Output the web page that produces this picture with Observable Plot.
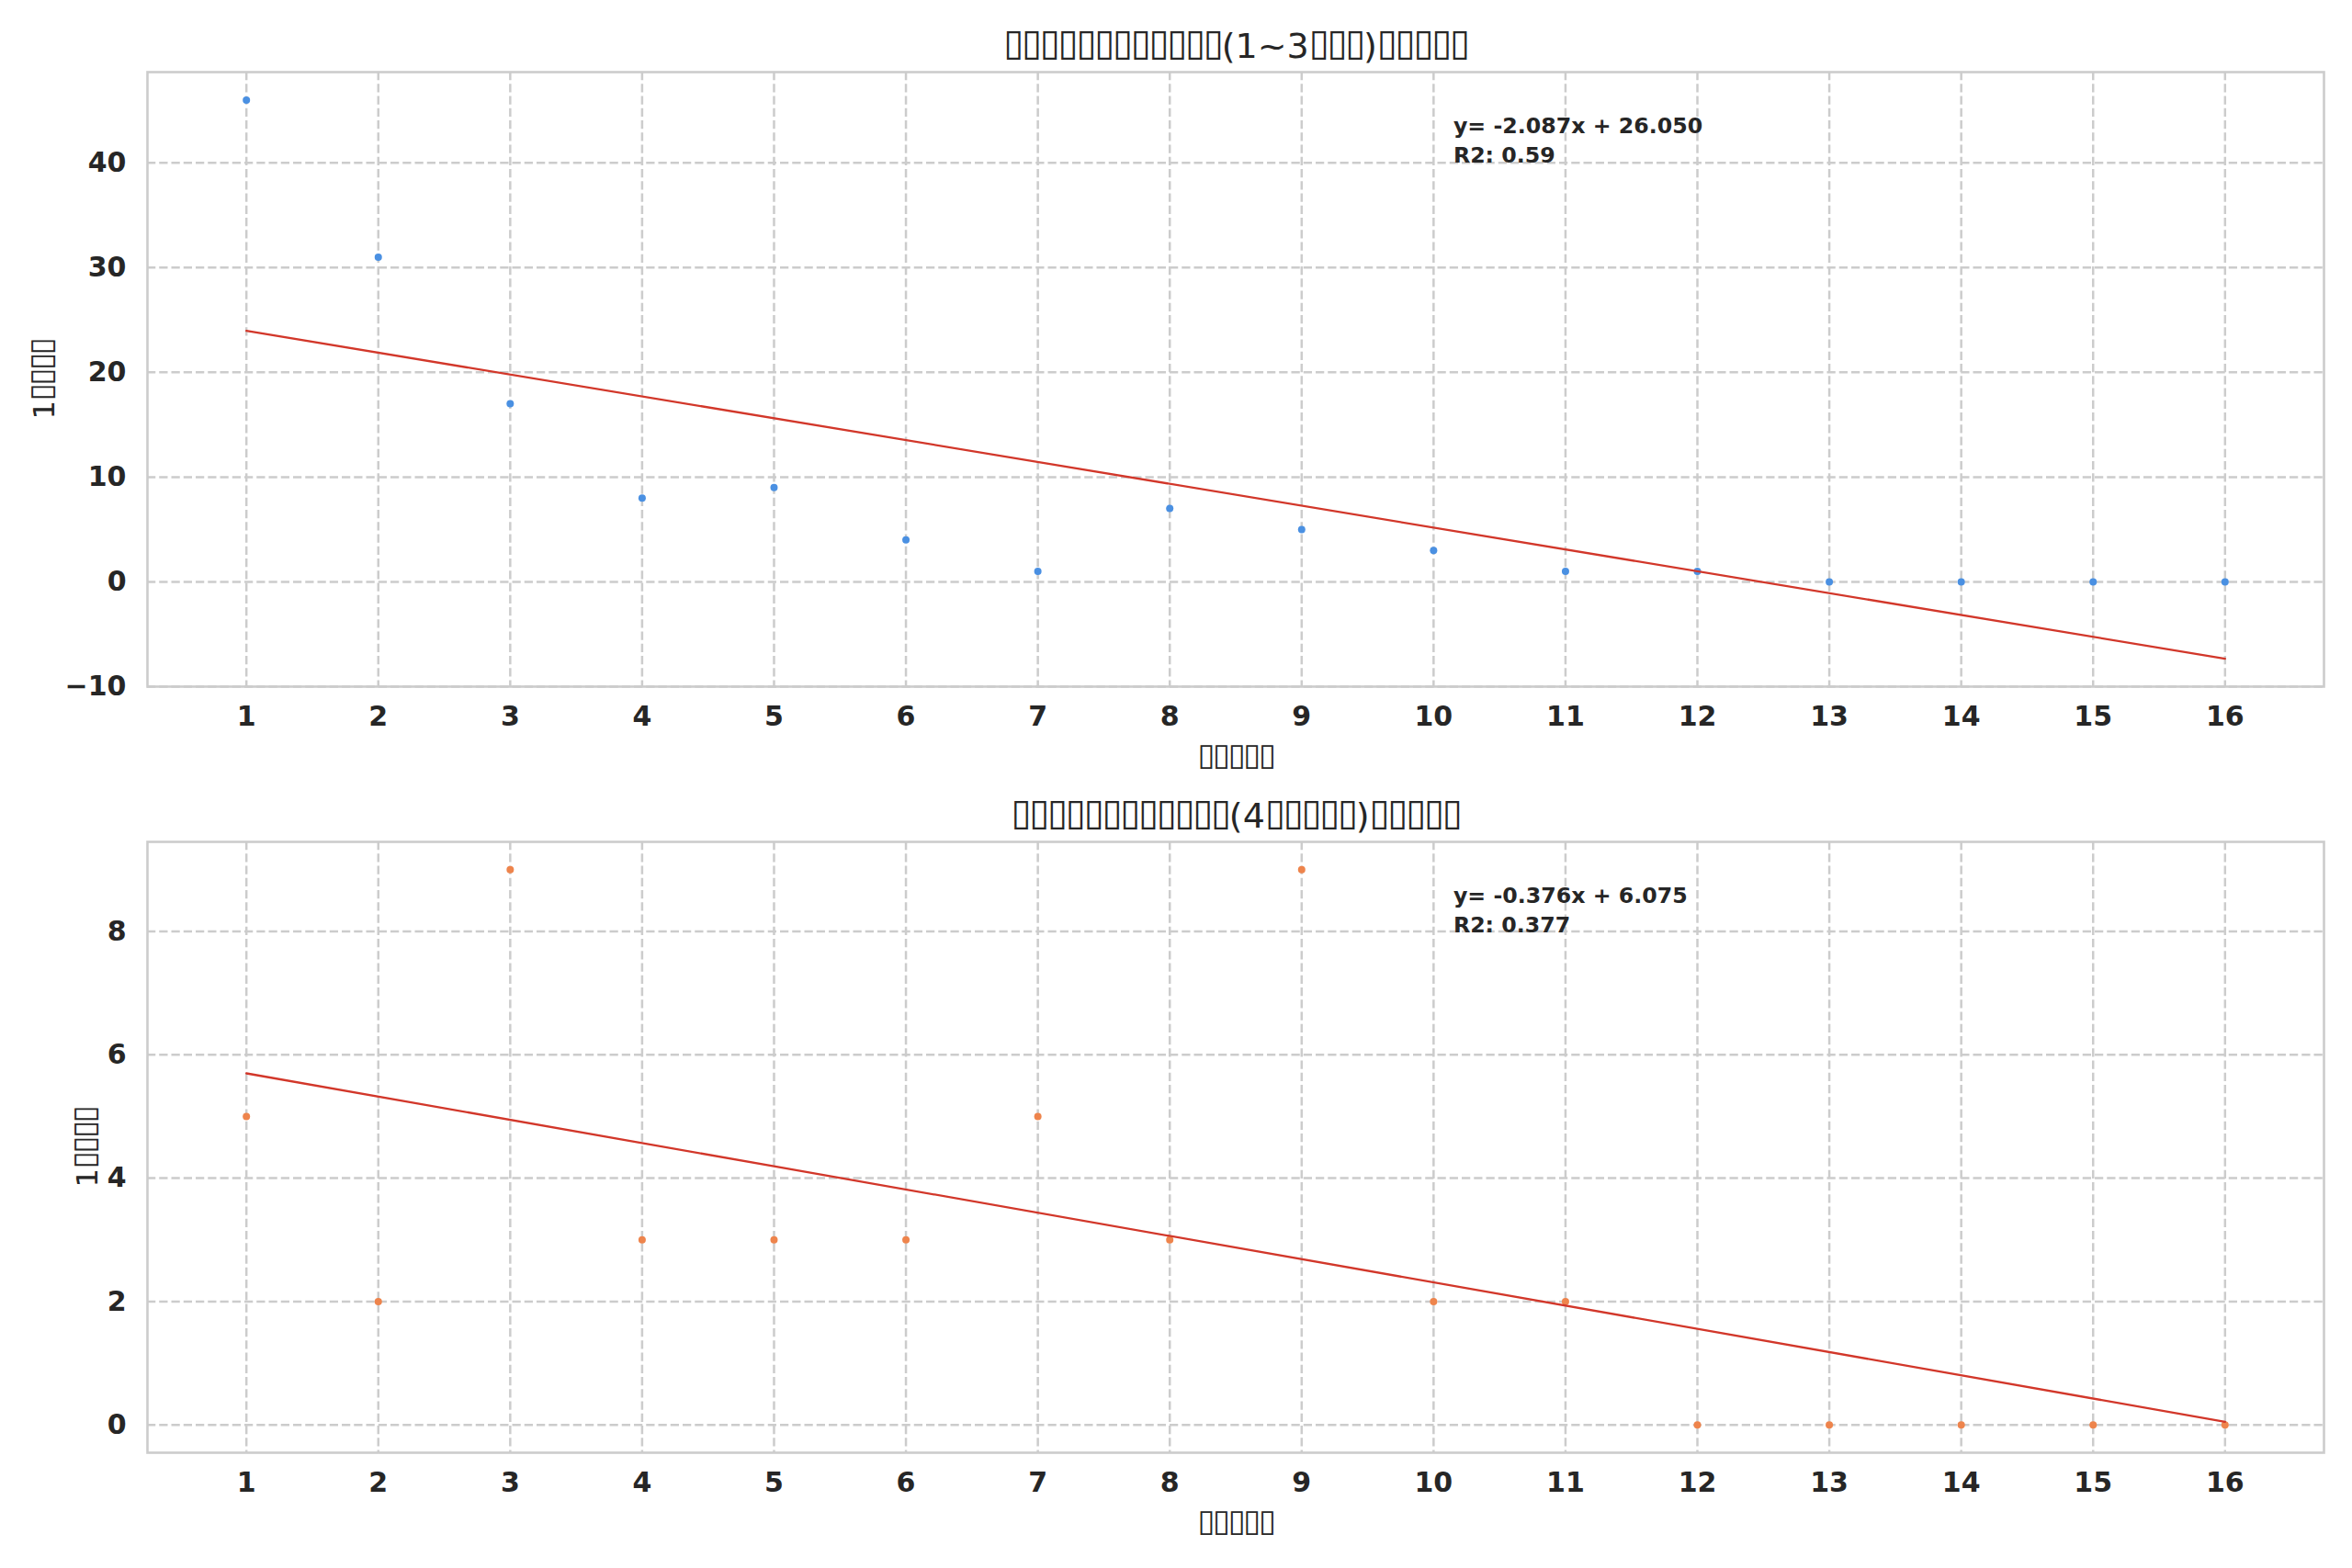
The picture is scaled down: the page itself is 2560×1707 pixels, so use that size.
<!DOCTYPE html>
<html>
<head>
<meta charset="utf-8">
<script src="https://cdn.jsdelivr.net/npm/d3@7"></script>
<script src="https://cdn.jsdelivr.net/npm/@observablehq/plot@0.6"></script>
<style>
  html, body { margin: 0; padding: 0; background: #ffffff; }
  #wrap { position: relative; width: 2560px; height: 1707px; overflow: hidden; background: #ffffff; }
  svg { display: block; }
</style>
</head>
<body>
<div id="wrap"></div>
<script>
// ---- data ----
const weeks = [1, 2, 3, 4, 5, 6, 7, 8, 9, 10, 11, 12, 13, 14, 15, 16];
const countsTop = [46, 31, 17, 8, 9, 4, 1, 7, 5, 3, 1, 1, 0, 0, 0, 0];
const countsBottom = [5, 2, 9, 3, 3, 3, 5, 3, 9, 2, 2, 0, 0, 0, 0, 0];
const xTicks = weeks;
const yTicksTop = [-10, 0, 10, 20, 30, 40];
const yTicksBottom = [0, 2, 4, 6, 8];
// the reference shows its CJK text as missing-glyph boxes; kept as box characters
const titleTop = "▯▯▯▯▯▯▯▯▯▯▯▯(1~3▯▯▯)▯▯▯▯▯";
const titleBottom = "▯▯▯▯▯▯▯▯▯▯▯▯(4▯▯▯▯▯)▯▯▯▯▯";
const xLabel = "▯▯▯▯▯";
const yLabel = "1▯▯▯▯";
const eqTop = "y= -2.087x + 26.050\nR2: 0.59";
const eqBottom = "y= -0.376x + 6.075\nR2: 0.377";
const colorTop = "#4a90e2";
const colorBottom = "#ee844c";
const lineColor = "#d2372a";

const W = 2560, ML = 160, MR = 31;
const textColor = "#262626";
const gridColor = "#cccccc";

function fit(xs, ys) {
  const mx = d3.mean(xs), my = d3.mean(ys);
  let sxy = 0, sxx = 0;
  xs.forEach((x, i) => { sxy += (x - mx) * (ys[i] - my); sxx += (x - mx) ** 2; });
  const b = sxy / sxx;
  return [b, my - b * mx];
}
function pad([a, b]) { const m = (b - a) * 0.05; return [a - m, b + m]; }

function chart({counts, color, title, eq, yTicks, height, mt, mb, yLabelDx}) {
  const rows = weeks.map((w, i) => ({week: w, count: counts[i]}));
  const [b, a] = fit(weeks, counts);
  const xExt = d3.extent(weeks);
  const lineVals = xExt.map(x => a + b * x);
  const yDom = pad(d3.extent([...counts, ...lineVals]));
  const xDom = pad(xExt);
  const frameW = W - ML - MR;
  return Plot.plot({
    width: W, height, marginTop: mt, marginBottom: mb, marginLeft: ML, marginRight: MR,
    style: {fontFamily: "DejaVu Sans", fontSize: "30px", fontWeight: "bold", color: textColor, background: "#ffffff", overflow: "visible"},
    x: {domain: xDom, ticks: xTicks, tickSize: 0, tickPadding: 21, label: null, tickFormat: d => String(d)},
    y: {domain: yDom, ticks: yTicks, tickSize: 0, tickPadding: 23, label: null, tickFormat: d => (d < 0 ? "\u2212" + Math.abs(d) : String(d))},
    marks: [
      Plot.ruleX(xTicks, {x: d => d, stroke: gridColor, strokeWidth: 2.5, strokeDasharray: "9.25,4"}),
      Plot.ruleY(yTicks, {y: d => d, stroke: gridColor, strokeWidth: 2.5, strokeDasharray: "9.25,4"}),
      Plot.dot(rows, {x: "week", y: "count", r: 4, fill: color, stroke: null}),
      Plot.linearRegressionY(rows, {x: "week", y: "count", stroke: lineColor, strokeWidth: 2.3, ci: 0}),
      Plot.frame({stroke: gridColor, strokeWidth: 2.6}),
      Plot.text([eq], {text: d => d, frameAnchor: "top-left", dx: 0.6 * frameW, dy: 44, lineAnchor: "top", textAnchor: "start", lineHeight: 1.35, fontSize: 23.7, fontWeight: "bold", fill: textColor}),
      Plot.text([title], {text: d => d, frameAnchor: "top", dy: -15.5, lineAnchor: "bottom", fontSize: 38, fontWeight: "normal", fill: textColor, className: "boxy"}),
      Plot.text([xLabel], {text: d => d, frameAnchor: "bottom", dy: 88, lineAnchor: "bottom", fontSize: 32, fontWeight: "normal", fill: textColor, className: "boxy"}),
      Plot.text([yLabel], {text: d => d, frameAnchor: "left", dx: yLabelDx, rotate: -90, textAnchor: "middle", fontSize: 32, fontWeight: "normal", fill: textColor, className: "boxy"})
    ]
  });
}

// Reshape the box glyph runs so they resemble the missing-glyph boxes of the reference
function boxify(svg) {
  const BOX = "\u25AF";
  const S = 1.064;          // box glyph size relative to the text size
  const LS = -0.061;        // letter spacing (em of box size)
  const UP = 0.078;         // raise (em of text size)
  svg.querySelectorAll("text").forEach(t => {
    if (t.children.length || !t.textContent.includes(BOX)) return;
    const s = t.textContent;
    const runs = s.match(/\u25AF+|[^\u25AF]+/g);
    t.textContent = "";
    let raised = false;
    runs.forEach(r => {
      const sp = document.createElementNS("http://www.w3.org/2000/svg", "tspan");
      sp.textContent = r;
      if (r[0] === BOX) {
        sp.setAttribute("font-size", `${S}em`);
        sp.setAttribute("letter-spacing", `${LS}em`);
        if (!raised) { sp.setAttribute("dy", `${-UP / S}em`); raised = true; }
      } else if (raised) {
        sp.setAttribute("dy", `${UP}em`);
        raised = false;
      }
      t.appendChild(sp);
    });
  });
}

const wrap = document.getElementById("wrap");
const c1 = chart({counts: countsTop, color: colorTop, title: titleTop, eq: eqTop, yTicks: yTicksTop, height: 853, mt: 78, mb: 106, yLabelDx: -112});
const c2 = chart({counts: countsBottom, color: colorBottom, title: titleBottom, eq: eqBottom, yTicks: yTicksBottom, height: 854, mt: 63, mb: 126, yLabelDx: -65});
wrap.appendChild(c1);
wrap.appendChild(c2);
boxify(c1);
boxify(c2);
</script>
</body>
</html>
